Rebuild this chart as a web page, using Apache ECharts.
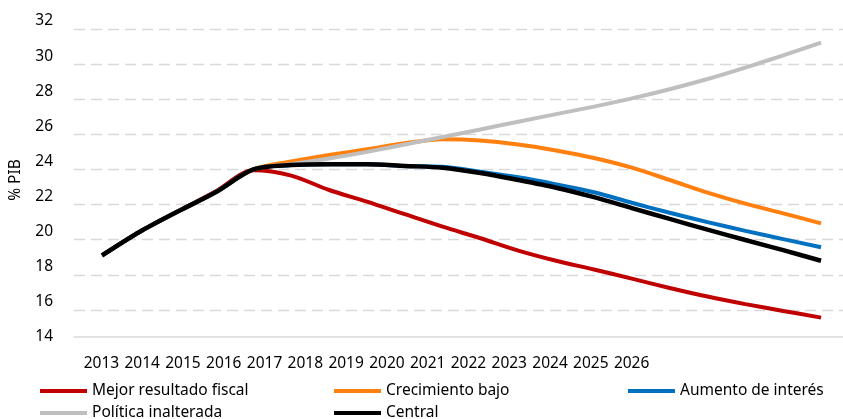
<!DOCTYPE html>
<html>
<head>
<meta charset="utf-8">
<script src="https://cdn.jsdelivr.net/npm/echarts@6/dist/echarts.min.js"></script>
<style>
  html, body { margin: 0; padding: 0; background: #fff; }
  #main { width: 843px; height: 419px; }
</style>
</head>
<body>
<div id="main"></div>
<script>
var years = [2013, 2014, 2015, 2016, 2017, 2018, 2019, 2020, 2021, 2022,
             2023, 2024, 2025, 2026, 2027, 2028, 2029, 2030, 2031, 2032];
var labelYears = ['2013', '2014', '2015', '2016', '2017', '2018', '2019',
                  '2020', '2021', '2022', '2023', '2024', '2025', '2026'];

var mejor = [19.1, 20.45, 21.6, 22.75, 23.95, 23.65, 22.83, 22.17, 21.45, 20.74,
             20.08, 19.38, 18.8, 18.3, 17.78, 17.25, 16.76, 16.33, 15.94, 15.56];
var crecimiento = [19.1, 20.45, 21.6, 22.7, 24.0, 24.45, 24.82, 25.15, 25.49, 25.72,
                   25.65, 25.42, 25.08, 24.65, 24.1, 23.4, 22.68, 22.05, 21.5, 20.93];
var interes = [19.1, 20.45, 21.6, 22.7, 24.0, 24.25, 24.3, 24.3, 24.2, 24.15,
               23.87, 23.55, 23.15, 22.7, 22.1, 21.53, 21.0, 20.5, 20.03, 19.57];
var politica = [19.1, 20.45, 21.6, 22.7, 24.0, 24.3, 24.62, 25.0, 25.42, 25.85,
                26.28, 26.72, 27.15, 27.58, 28.05, 28.57, 29.15, 29.8, 30.5, 31.22];
var central = [19.1, 20.45, 21.6, 22.7, 24.0, 24.25, 24.3, 24.3, 24.2, 24.1,
               23.8, 23.4, 22.96, 22.42, 21.8, 21.18, 20.57, 19.98, 19.4, 18.8];

var chart = echarts.init(document.getElementById('main'));
var font = 'Noto Sans';

function pairs(vals) {
    return vals.map(function (v, i) { return [years[i], v]; });
}

function line(name, vals, color, width) {
    return {
        name: name,
        type: 'line',
        xAxisIndex: 0,
        yAxisIndex: 0,
        data: pairs(vals),
        smooth: 0.3,
        symbol: 'none',
        lineStyle: { color: color, width: width },
        itemStyle: { color: color }
    };
}

function legend(left, names) {
    return {
        orient: 'vertical',
        left: left,
        top: 383,
        height: 60,
        padding: 0,
        itemWidth: 47,
        itemHeight: 4,
        itemGap: 6,
        icon: 'rect',
        data: names,
        textStyle: { fontFamily: font, fontSize: 15.5, color: '#000', lineHeight: 16 }
    };
}

var option = {
    animation: false,
    backgroundColor: '#fff',
    grid: [
        { left: 74, right: 0, top: 29, bottom: 74 },
        { left: 81, width: 571, top: 340, height: 10 }
    ],
    legend: [
        legend(40, ['Mejor resultado fiscal', 'Política inalterada']),
        legend(334, ['Crecimiento bajo', 'Central']),
        legend(628, ['Aumento de interés'])
    ],
    xAxis: [
        {
            type: 'value',
            gridIndex: 0,
            min: 2012.26,
            max: 2032.58,
            offset: -8,
            axisLine: { show: true, lineStyle: { color: '#d9d9d9', width: 1.5 } },
            axisTick: { show: false },
            axisLabel: { show: false },
            splitLine: { show: false }
        },
        {
            type: 'category',
            gridIndex: 1,
            data: labelYears,
            axisLine: { show: false },
            axisTick: { show: false },
            axisLabel: { margin: 6, fontFamily: font, fontSize: 15.5, color: '#000', interval: 0 }
        }
    ],
    yAxis: [
        {
            type: 'value',
            gridIndex: 0,
            min: 14,
            max: 32,
            interval: 2,
            name: '% PIB',
            nameLocation: 'middle',
            nameRotate: 90,
            nameGap: 50,
            nameTextStyle: { fontFamily: font, fontSize: 15.5, color: '#000', padding: [0, 0, 0, 14] },
            axisLine: { show: false },
            axisTick: { show: false },
            axisLabel: {
                margin: 21, fontFamily: font, fontSize: 15.5, color: '#000',
                verticalAlign: 'bottom', lineHeight: 16
            },
            splitLine: { show: true, showMinLine: false, lineStyle: { color: '#d9d9d9', type: [11, 6], width: 1.3 } }
        },
        {
            type: 'value',
            gridIndex: 1,
            show: false
        }
    ],
    series: [
        line('Mejor resultado fiscal', mejor, '#C00000', 4),
        line('Crecimiento bajo', crecimiento, '#FF7F0F', 4),
        line('Aumento de interés', interes, '#0070C0', 4),
        line('Política inalterada', politica, '#BFBFBF', 4),
        line('Central', central, '#000000', 4.5)
    ]
};

chart.setOption(option);
</script>
</body>
</html>
